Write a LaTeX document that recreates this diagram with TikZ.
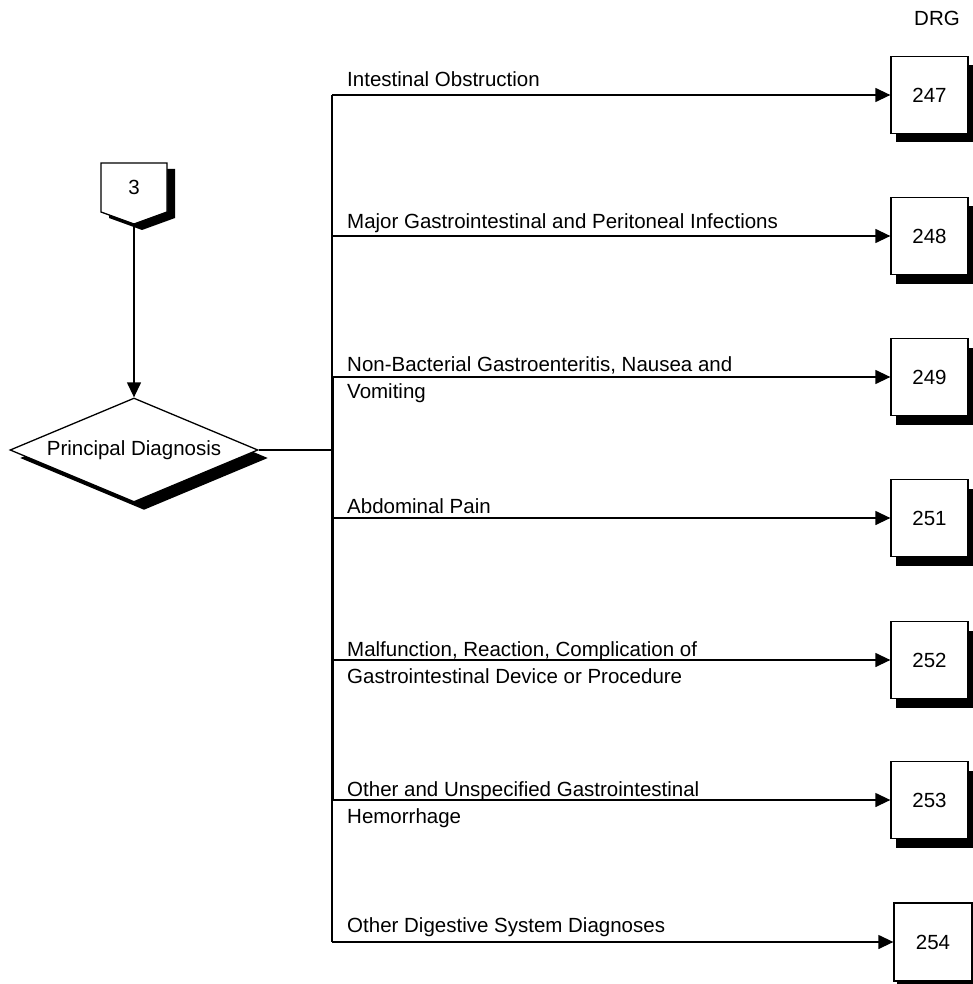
\documentclass[tikz,border=0pt]{standalone}
\usepackage{fontspec}
\setmainfont{Liberation Sans}
\usetikzlibrary{arrows.meta,shapes.geometric,shadows}
\begin{document}
\begin{tikzpicture}[x=1pt,y=-1pt,
  every node/.style={font=\fontsize{20.5}{27}\selectfont, inner sep=0pt},
  wire/.style={line width=1.3pt},
  arr/.style={wire,-{Triangle[length=15pt,width=14pt]}},
  drgbox/.style={draw,line width=1.3pt,fill=white,minimum width=77pt,minimum height=77pt,
    drop shadow={shadow xshift=5pt,shadow yshift=-9pt,opacity=1,fill=black}},
  lbl/.style={anchor=base west}
]
\useasboundingbox (0,0) rectangle (973,984);

% off-page connector "3" with its shadow
\fill[black] (109,169) -- (175,169) -- (175,218) -- (142,230) -- (109,218) -- cycle;
\filldraw[wire, fill=white] (101,163) -- (167,163) -- (167,212) -- (134,224) -- (101,212) -- cycle;
\node (c3) at (134,187) {3};
\coordinate (c3tip) at (134,224);

% decision diamond
\node[diamond, aspect=2.385, draw, wire, fill=white, minimum width=248pt, minimum height=104pt,
  drop shadow={shadow xshift=10pt,shadow yshift=-8pt,opacity=1,fill=black}]
  (pd) at (134,450) {Principal Diagnosis};

\draw[arr] (c3tip) -- (pd.north);

% branch points on the spine
\coordinate (b1) at (332,95);
\coordinate (b2) at (332,236);
\coordinate (b3) at (332,377);
\coordinate (b4) at (332,518);
\coordinate (b5) at (332,660);
\coordinate (b6) at (332,800);
\coordinate (b7) at (332,942);
\coordinate (jn) at (332,450);

\draw[wire] (pd.east) -- (jn);
\draw[wire] (b1) -- (b7);
\draw[line width=2.8pt, transform canvas={xshift=1pt}] (b3) -- (b6);

% DRG boxes
\node (drg) at (937,18) {DRG};
\node[drgbox] (d247) at (929.5,95) {247};
\node[drgbox] (d248) at (929.5,236) {248};
\node[drgbox] (d249) at (929.5,377) {249};
\node[drgbox] (d251) at (929.5,518) {251};
\node[drgbox] (d252) at (929.5,660) {252};
\node[drgbox] (d253) at (929.5,800) {253};
\node[drgbox, minimum width=78pt, minimum height=78pt,
  drop shadow={shadow xshift=3pt,shadow yshift=-3pt,opacity=1,fill=black}]
  (d254) at (933,942) {254};

\draw[arr] (b1) -- (d247);
\draw[arr] (b2) -- (d248);
\draw[arr] (b3) -- (d249);
\draw[arr] (b4) -- (d251);
\draw[arr] (b5) -- (d252);
\draw[arr] (b6) -- (d253);
\draw[arr] (b7) -- (d254);

% branch labels
\node[lbl] (l1) at (347,87) {Intestinal Obstruction};
\node[lbl] (l2) at (347,229) {Major Gastrointestinal and Peritoneal Infections};
\node[lbl] (l3) at (347,371) {\begin{tabular}[t]{@{}l@{}}Non-Bacterial Gastroenteritis, Nausea and\\Vomiting\end{tabular}};
\node[lbl] (l4) at (347,513) {Abdominal Pain};
\node[lbl] (l5) at (347,656) {\begin{tabular}[t]{@{}l@{}}Malfunction, Reaction, Complication of\\Gastrointestinal Device or Procedure\end{tabular}};
\node[lbl] (l6) at (347,796) {\begin{tabular}[t]{@{}l@{}}Other and Unspecified Gastrointestinal\\Hemorrhage\end{tabular}};
\node[lbl] (l7) at (347,932) {Other Digestive System Diagnoses};
\end{tikzpicture}
\end{document}
